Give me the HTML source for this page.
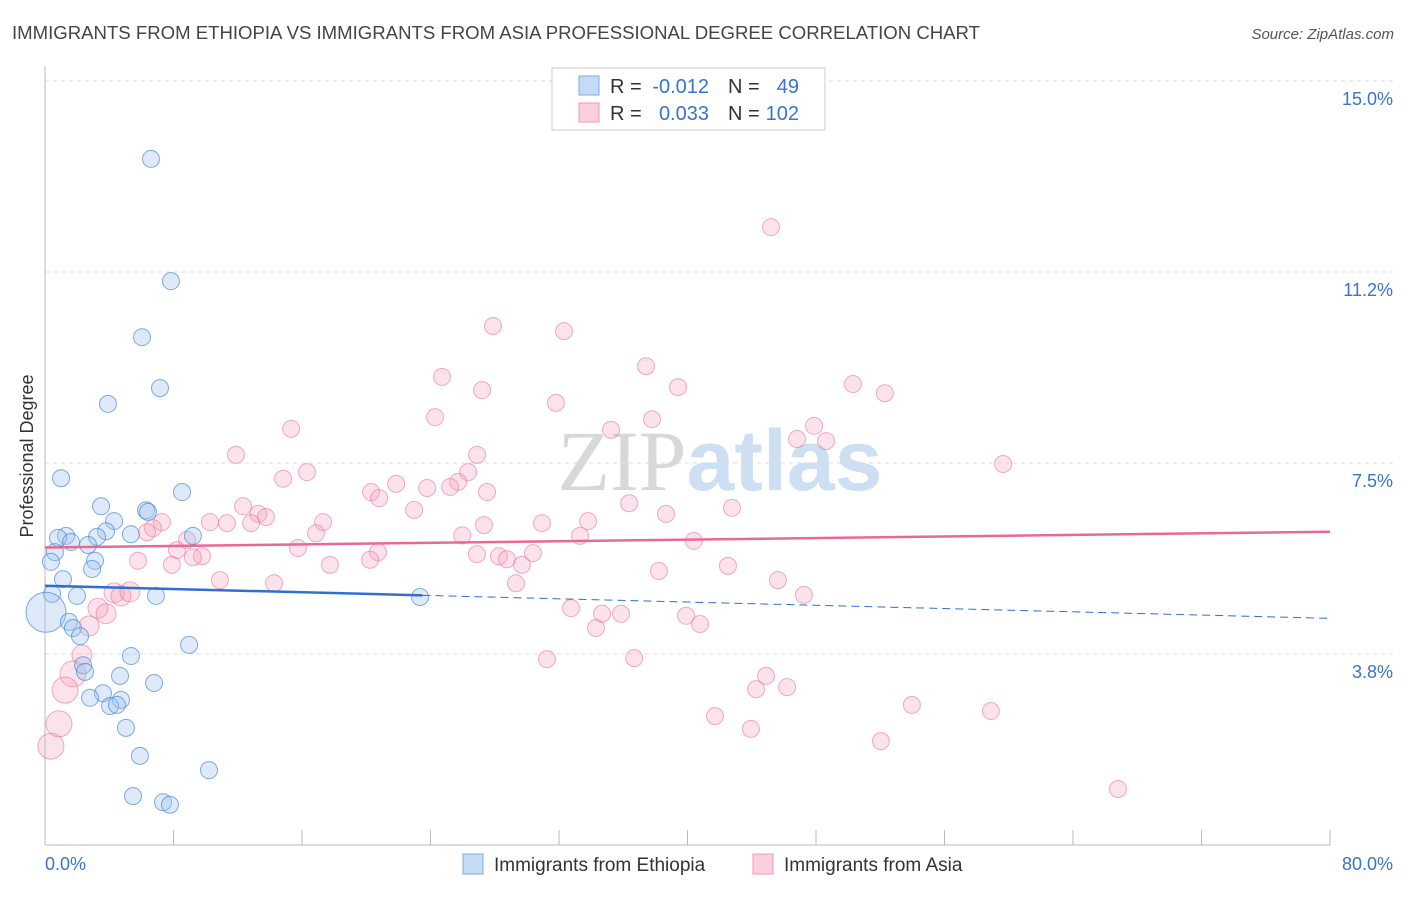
<!DOCTYPE html>
<html><head><meta charset="utf-8"><style>
body{margin:0;background:#fff;font-family:"Liberation Sans",sans-serif}
svg text{font-family:"Liberation Sans",sans-serif}
</style></head><body>
<svg id="chart" width="1406" height="892" viewBox="0 0 1406 892" xmlns="http://www.w3.org/2000/svg">
<text x="12" y="39" font-size="18" fill="#444" textLength="968" lengthAdjust="spacingAndGlyphs">IMMIGRANTS FROM ETHIOPIA VS IMMIGRANTS FROM ASIA PROFESSIONAL DEGREE CORRELATION CHART</text>
<text x="1394" y="39" font-size="15" fill="#555" text-anchor="end" font-style="italic">Source: ZipAtlas.com</text>
<text x="720" y="490" font-size="86" text-anchor="middle"><tspan fill="#d8d8d8" font-family="Liberation Serif">ZIP</tspan><tspan fill="#cddff2" font-weight="bold">atlas</tspan></text>
<text transform="translate(33,456) rotate(-90)" font-size="18" fill="#333" text-anchor="middle">Professional Degree</text>
<g id="grid"></g><g id="axes"></g><g id="pts"></g><g id="trend"></g>
<g>
<rect x="552" y="68" width="273" height="62" fill="#fff" stroke="#ccc"/>
<rect x="579" y="76" width="20" height="19" fill="#c5dbf5" stroke="#7aaee6"/>
<rect x="579" y="103" width="20" height="19" fill="#fbd0dc" stroke="#ee9ab3"/>
<text x="610" y="93" font-size="20" fill="#333">R =</text>
<text x="709" y="93" font-size="20" fill="#3874cc" text-anchor="end">-0.012</text>
<text x="728" y="93" font-size="20" fill="#333">N =</text>
<text x="799" y="93" font-size="20" fill="#3874cc" text-anchor="end">49</text>
<text x="610" y="120" font-size="20" fill="#333">R =</text>
<text x="709" y="120" font-size="20" fill="#3874cc" text-anchor="end">0.033</text>
<text x="728" y="120" font-size="20" fill="#333">N =</text>
<text x="799" y="120" font-size="20" fill="#3874cc" text-anchor="end">102</text>
</g>
<g>
<rect x="463" y="854" width="20" height="20" fill="#c5dbf5" stroke="#7aaee6"/>
<text x="494" y="871" font-size="19" fill="#333">Immigrants from Ethiopia</text>
<rect x="753" y="854" width="20" height="20" fill="#fbd0dc" stroke="#ee9ab3"/>
<text x="784" y="871" font-size="19" fill="#333">Immigrants from Asia</text>
</g>
</svg>
<script>
const yTicks=[3.75,7.5,11.25,15];
const yTickLabels=["3.8%","7.5%","11.2%","15.0%"];
const xTickLabels=["0.0%","80.0%"];
const ethX=[6.6,7.84,6.04,7.16,3.92,1.0,8.53,3.49,6.29,6.41,4.3,3.8,3.24,1.31,0.81,1.62,2.68,5.35,9.21,0.62,0.37,3.11,2.93,1.12,0.44,1.99,6.91,23.35,0.06,1.49,1.74,2.18,8.97,5.35,2.37,2.49,4.67,6.79,3.61,2.8,4.73,4.05,4.48,5.04,5.91,10.21,5.48,7.35,7.78];
const ethY=[13.47,11.07,9.97,8.97,8.66,7.2,6.93,6.65,6.57,6.54,6.36,6.16,6.05,6.07,6.03,5.95,5.89,6.1,6.07,5.75,5.56,5.58,5.42,5.22,4.93,4.89,4.89,4.87,4.57,4.38,4.26,4.1,3.93,3.71,3.53,3.4,3.32,3.18,2.98,2.89,2.85,2.73,2.75,2.3,1.75,1.47,0.96,0.84,0.79];
const asiaX=[45.2,27.89,32.31,37.42,24.72,27.21,39.41,50.3,52.29,31.81,24.28,37.79,15.32,35.24,47.88,46.82,48.62,26.9,11.89,26.34,59.65,16.31,14.82,25.72,25.22,23.79,21.86,20.3,20.8,27.52,36.37,12.33,22.98,42.77,38.66,13.28,13.76,10.27,11.33,17.31,12.83,7.28,30.94,27.33,33.81,6.72,6.35,16.87,25.98,33.31,8.84,40.4,15.75,8.22,9.77,9.21,20.73,26.89,28.26,28.76,30.38,20.24,5.79,7.9,17.74,29.69,42.52,38.22,10.89,14.26,29.32,45.63,4.3,4.73,5.29,47.25,3.3,3.8,32.75,34.68,35.86,39.91,2.74,40.78,34.3,2.3,31.25,36.68,1.74,1.25,44.89,44.27,46.2,53.97,58.89,41.71,43.95,52.04,0.87,0.37,66.8];
const asiaY=[12.13,10.19,10.09,9.4,9.19,8.93,8.99,9.05,8.87,8.68,8.4,8.36,8.17,8.15,8.23,7.97,7.93,7.66,7.66,7.32,7.48,7.32,7.19,7.13,7.03,7.01,7.09,6.93,6.81,6.93,6.71,6.65,6.58,6.62,6.5,6.5,6.44,6.34,6.32,6.34,6.32,6.34,6.32,6.28,6.36,6.22,6.14,6.12,6.08,6.07,5.99,5.97,5.83,5.79,5.67,5.65,5.75,5.71,5.67,5.61,5.73,5.6,5.58,5.5,5.5,5.5,5.48,5.38,5.2,5.14,5.14,5.2,4.95,4.89,4.97,4.91,4.65,4.54,4.65,4.54,4.54,4.5,4.3,4.34,4.26,3.73,3.65,3.67,3.36,3.04,3.32,3.06,3.1,2.75,2.63,2.53,2.28,2.04,2.38,1.94,1.1];
const ethTrend=[5.09,4.45];
const asiaTrend=[5.84,6.15];
const X=v=>45+v/80*1285, Y=v=>845-v/3.75*191;
const NS="http://www.w3.org/2000/svg";
function mk(p,t,a){const e=document.createElementNS(NS,t);for(const k in a)e.setAttribute(k,a[k]);p.appendChild(e);return e;}
const grid=document.getElementById('grid'),axes=document.getElementById('axes'),pts=document.getElementById('pts'),tr=document.getElementById('trend');
yTicks.forEach((t,i)=>{
 const l=mk(grid,'line',{x1:45,x2:1394,y1:Y(t),y2:Y(t),stroke:'#ddd','stroke-dasharray':'4,4'});
 
 
 const tx=mk(axes,'text',{x:1393,y:Y(t)+24,'font-size':18,fill:'#3874cc','text-anchor':'end'});tx.textContent=yTickLabels[i];
 
 
});
const ax=mk(axes,'line',{x1:45,x2:45,y1:66,y2:845,stroke:'#bbb'});


const bx=mk(axes,'line',{x1:45,x2:1330,y1:845,y2:845,stroke:'#bbb'});


for(let i=0;i<=10;i++){const t=mk(axes,'line',{x1:X(i*8),x2:X(i*8),y1:830,y2:845,stroke:'#bbb'});
 
 }
[[0,'start',45],[80,'end',1393]].forEach((d,i)=>{const t=mk(axes,'text',{x:d[2],y:870,'font-size':18,fill:'#3874cc','text-anchor':d[1]});t.textContent=xTickLabels[i];
 
 });
asiaX.forEach((x,i)=>{const r=(x<2.5&&asiaY[i]<3.5)?13:(x<6&&asiaY[i]<5)?10:8.5;
 const c=mk(pts,'circle',{cx:X(x),cy:Y(asiaY[i]),r:r,fill:'rgba(244,160,185,0.3)',stroke:'rgba(232,120,155,0.6)','stroke-width':1});
 
 });
ethX.forEach((x,i)=>{const r=(x<0.2)?20:8.5;
 const c=mk(pts,'circle',{cx:X(x),cy:Y(ethY[i]),r:r,fill:'rgba(160,195,240,0.35)',stroke:'rgba(60,130,215,0.65)','stroke-width':1});
 
 });
const ey=x=>ethTrend[0]+(ethTrend[1]-ethTrend[0])*x/80;
const l1=mk(tr,'line',{x1:X(0),y1:Y(ey(0)),x2:X(23.5),y2:Y(ey(23.5)),stroke:'#2f6fd0','stroke-width':2.5});


const l2=mk(tr,'line',{x1:X(23.5),y1:Y(ey(23.5)),x2:X(80),y2:Y(ey(80)),stroke:'#2f6fd0','stroke-width':1,'stroke-dasharray':'8,5'});


const l3=mk(tr,'line',{x1:X(0),y1:Y(asiaTrend[0]),x2:X(80),y2:Y(asiaTrend[1]),stroke:'#e86a93','stroke-width':2.5});


</script>
</body></html>
